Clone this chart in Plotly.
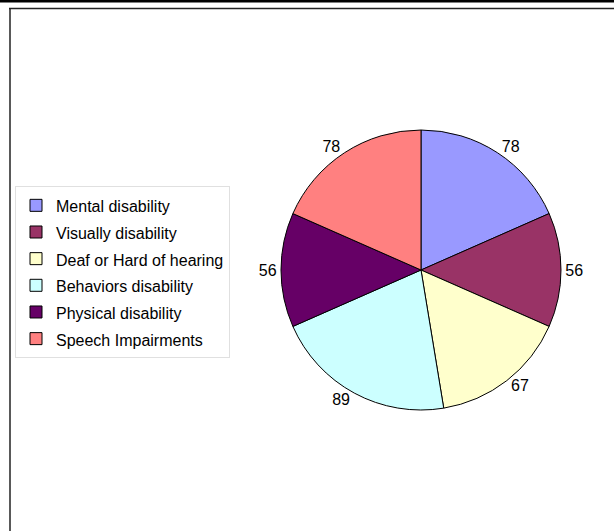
import plotly.graph_objects as go

categories = ["Mental disability", "Visually disability", "Deaf or Hard of hearing",
              "Behaviors disability", "Physical disability", "Speech Impairments"]
values = [78, 56, 67, 89, 56, 78]
colors = ["#9999FF", "#993366", "#FFFFCC", "#CCFFFF", "#660066", "#FF8080"]

W, H = 614, 531

def px(x):
    return x / W

def py(y):
    return 1 - y / H

legend_labels = ["<span style='font-size:16px'>%s</span>" % c for c in categories]

fig = go.Figure(go.Pie(
    labels=legend_labels,
    values=values,
    customdata=categories,
    marker=dict(colors=colors, line=dict(color="black", width=1)),
    sort=False,
    direction="clockwise",
    rotation=0,
    textinfo="value",
    textposition="outside",
    textfont=dict(family="Liberation Sans, Arial", size=16, color="black"),
    domain=dict(x=[px(281), px(561)], y=[py(410), py(130)]),
    hovertemplate="%{customdata}: %{value}<extra></extra>",
))

fig.update_layout(
    width=W, height=H,
    margin=dict(l=0, r=0, t=0, b=0),
    paper_bgcolor="white",
    plot_bgcolor="white",
    font=dict(family="Liberation Sans, Arial", size=16, color="black"),
    showlegend=True,
    legend=dict(
        x=px(15), y=py(186), xanchor="left", yanchor="top",
        bordercolor="#e0e0e0", borderwidth=1, bgcolor="white",
        font=dict(size=18.2),
    ),
    shapes=[
        dict(type="rect", xref="paper", yref="paper", x0=0, x1=1, y0=py(2.5), y1=1,
             fillcolor="black", line=dict(width=0)),
        dict(type="line", xref="paper", yref="paper", x0=px(9), x1=1, y0=py(8.5), y1=py(8.5),
             line=dict(color="#222", width=1.5)),
        dict(type="line", xref="paper", yref="paper", x0=px(10), x1=px(10), y0=0, y1=py(8.5),
             line=dict(color="#222", width=1.5)),
    ],
)

fig.write_html("out.html", config={"displayModeBar": False},
               post_script="document.body.style.margin='0';")
